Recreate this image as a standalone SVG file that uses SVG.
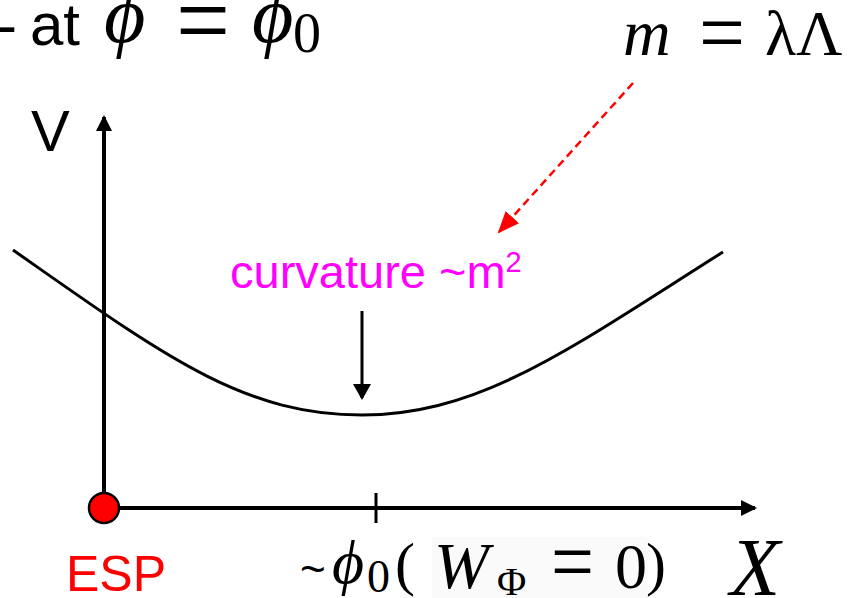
<svg xmlns="http://www.w3.org/2000/svg" width="859" height="598" viewBox="0 0 859 598">
<style>
.sans{font-family:"Liberation Sans",Arial,sans-serif}
.math{font-family:"Liberation Serif","DejaVu Serif",serif}
.it{font-style:italic}
.ax{stroke:#000;stroke-width:4;fill:none}
</style>
<defs>
<marker id="ah" viewBox="0 0 16 16" refX="14" refY="8" markerWidth="16" markerHeight="16" markerUnits="userSpaceOnUse" orient="auto">
<path d="M0,0 L16,8 L0,16 Z" fill="#000"/>
</marker>
<marker id="ahd" viewBox="0 0 16 18" refX="14" refY="9" markerWidth="16" markerHeight="18" markerUnits="userSpaceOnUse" orient="auto">
<path d="M0,0 L16,9 L0,18 Z" fill="#000"/>
</marker>
<marker id="ahr" viewBox="0 0 22 18" refX="20" refY="9" markerWidth="22" markerHeight="18" markerUnits="userSpaceOnUse" orient="auto">
<path d="M0,0 L22,9 L0,18 Z" fill="#f00"/>
</marker>
</defs>
<rect width="859" height="598" fill="#fff"/>
<rect x="432" y="537" width="216" height="61" fill="#fafafa"/>

<g id="title">
<text class="sans" x="-3" y="45" font-size="60">-</text>
<text class="sans" x="30" y="45" font-size="60">at</text>
<text class="math it" x="104" y="42" font-size="80">ϕ</text>
<text class="math" x="176" y="56" font-size="108" textLength="54" lengthAdjust="spacingAndGlyphs">=</text>
<text class="math it" x="252" y="42" font-size="80">ϕ</text>
<text class="math" x="293" y="52" font-size="56">0</text>
</g>

<g id="mass">
<text class="math it" x="623" y="55" font-size="66">m</text>
<text class="math" x="699" y="62" font-size="88" textLength="46" lengthAdjust="spacingAndGlyphs">=</text>
<text class="math" x="765" y="55" font-size="64">λΛ</text>
</g>

<g id="connectors">
<line class="ax" x1="104" y1="508" x2="104" y2="117" marker-end="url(#ah)"/>
<line class="ax" x1="104" y1="508" x2="755" y2="508" marker-end="url(#ah)"/>
<line x1="376" y1="493" x2="376" y2="523" stroke="#000" stroke-width="3"/>
<line x1="362" y1="311" x2="362" y2="398" stroke="#000" stroke-width="3" marker-end="url(#ahd)"/>
<line x1="633" y1="83" x2="499" y2="232" stroke="#f00" stroke-width="2.5" stroke-dasharray="8,5" marker-end="url(#ahr)"/>
</g>

<g id="potential">
<path d="M13,250 C163,355 242,415 362,415 C482,415 573,346.5 723,252" fill="none" stroke="#000" stroke-width="3"/>
</g>

<g id="V-label">
<text class="sans" x="31" y="151" font-size="58">V</text>
</g>

<g id="curvature">
<text class="sans" x="230" y="288" font-size="47" fill="#f0f">curvature ~m<tspan font-size="29" dy="-16">2</tspan></text>
</g>

<g id="ESP">
<circle cx="104" cy="508" r="15" fill="#f00" stroke="#000" stroke-width="2.5"/>
<text class="sans" x="66" y="591" font-size="50" fill="#f00">ESP</text>
</g>

<g id="x-label">
<text class="sans" x="300" y="584" font-size="44">~</text>
<text class="math it" x="332" y="583" font-size="62">ϕ</text>
<text class="math" x="367" y="592" font-size="46">0</text>
<text class="math" x="395" y="584" font-size="60">(</text>
<text class="math it" x="434" y="588" font-size="66">W</text>
<text class="math" x="497" y="595" font-size="40">Φ</text>
<text class="math" x="551" y="591" font-size="88" textLength="43" lengthAdjust="spacingAndGlyphs">=</text>
<text class="math" x="615" y="588" font-size="64">0</text>
<text class="math" x="646" y="584" font-size="60">)</text>
<text class="math it" x="730" y="595" font-size="82">X</text>
</g>
</svg>
